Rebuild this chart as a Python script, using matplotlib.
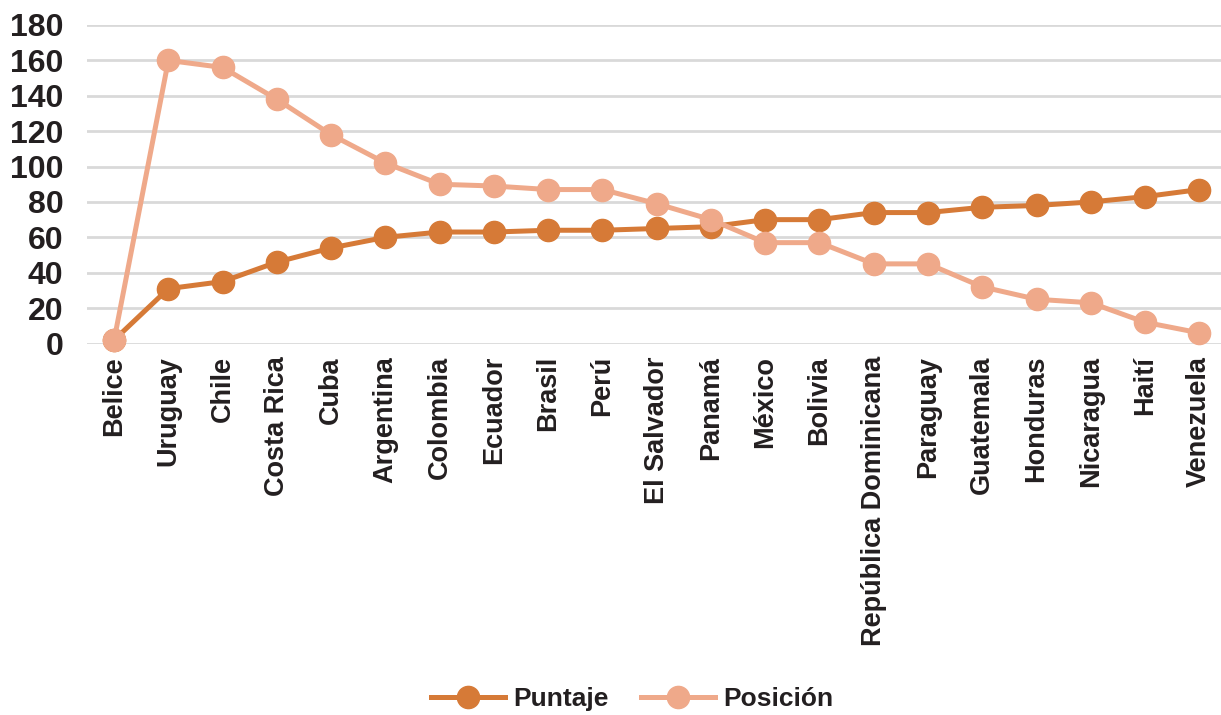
import matplotlib.pyplot as plt

# data
paises = ["Belice", "Uruguay", "Chile", "Costa Rica", "Cuba", "Argentina",
          "Colombia", "Ecuador", "Brasil", "Perú", "El Salvador", "Panamá",
          "México", "Bolivia", "República Dominicana", "Paraguay", "Guatemala",
          "Honduras", "Nicaragua", "Haití", "Venezuela"]
puntaje = [2, 31, 35, 46, 54, 60, 63, 63, 64, 64, 65, 66,
           70, 70, 74, 74, 77, 78, 80, 83, 87]
posicion = [2, 160, 156, 138, 118, 102, 90, 89, 87, 87, 79, 70,
            57, 57, 45, 45, 32, 25, 23, 12, 6]
yticks = [0, 20, 40, 60, 80, 100, 120, 140, 160, 180]

col_punt = "#D67A37"
col_pos = "#EFA98A"
txt = "#231F20"

plt.rcParams['font.family'] = ['Liberation Sans', 'DejaVu Sans']
plt.rcParams['font.weight'] = 'bold'

fig = plt.figure(figsize=(12.21, 7.15), dpi=100)
ax = fig.add_axes([87 / 1221, 1 - 343.5 / 715, 1 - 87 / 1221, (343.5 - 25) / 715])

x = range(len(paises))
ax.plot(x, puntaje, color=col_punt, lw=3.6, marker='o', ms=16,
        label="Puntaje", zorder=3)
ax.plot(x, posicion, color=col_pos, lw=3.6, marker='o', ms=16,
        label="Posición", zorder=4)

ax.set_xlim(-0.5, 20.4)
ax.set_ylim(0, 180)
ax.set_yticks(yticks)
ax.set_yticklabels([str(t) for t in yticks], fontsize=23, fontweight='bold', color=txt)
ax.set_xticks(list(x))
ax.set_xticklabels(paises, rotation=90, fontsize=19.5, fontweight='bold', color=txt)
ax.tick_params(axis='both', length=0)
ax.tick_params(axis='y', pad=17)
ax.tick_params(axis='x', pad=9)

ax.grid(axis='y', color='#D9D9D9', lw=2)
ax.set_axisbelow(True)
for s in ax.spines.values():
    s.set_visible(False)
for line in ax.lines:
    line.set_clip_on(False)

leg = fig.legend(loc='center', bbox_to_anchor=(632 / 1221, 1 - 699 / 715), ncol=2,
                 frameon=False, fontsize=19, handlelength=2.8, columnspacing=1.25,
                 handletextpad=0.3)
for t in leg.get_texts():
    t.set_color(txt)
    t.set_fontweight('bold')

fig.savefig("out.png", dpi=100)
